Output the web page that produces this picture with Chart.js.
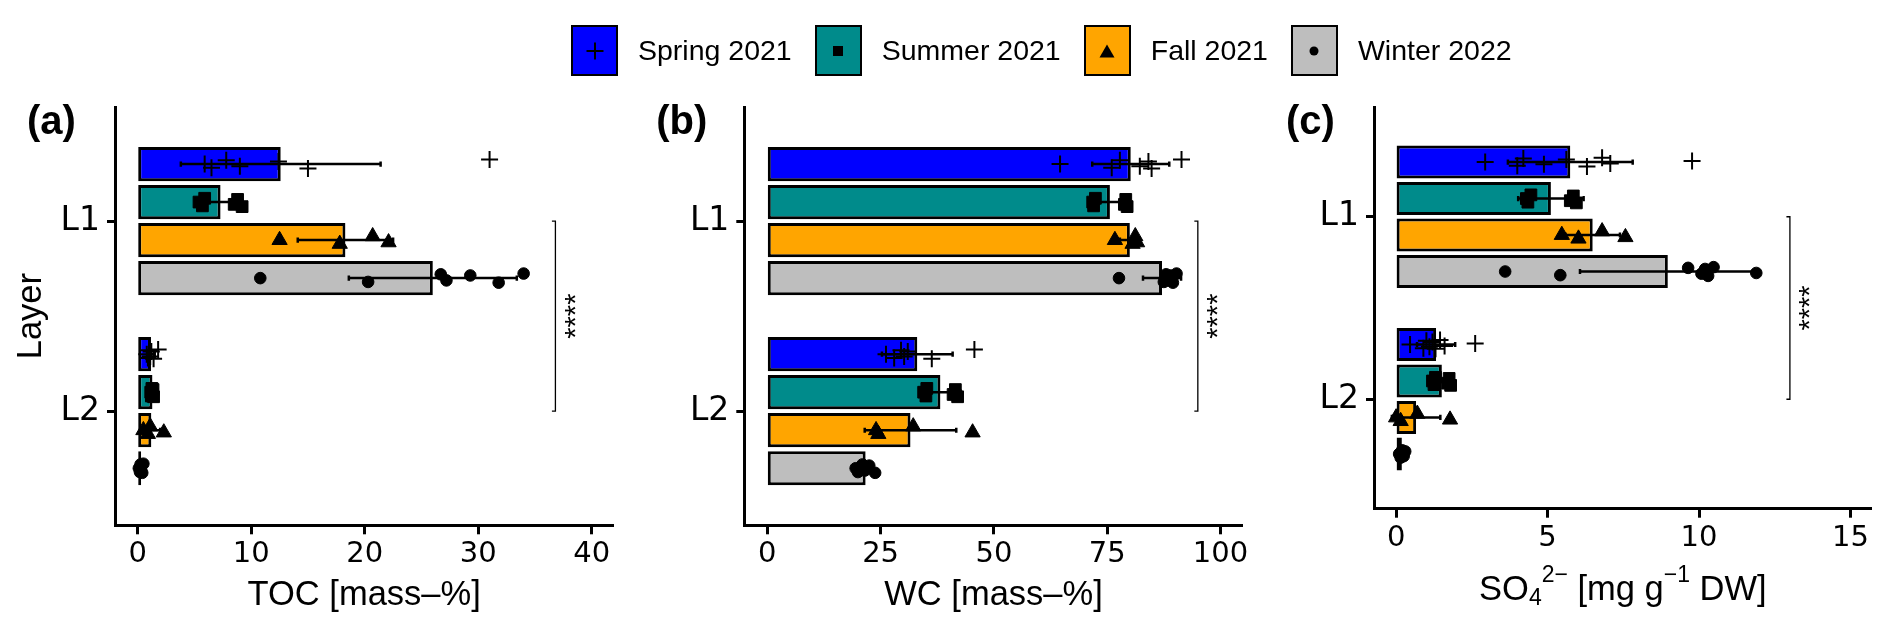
<!DOCTYPE html>
<html><head><meta charset="utf-8">
<script src="https://cdn.jsdelivr.net/npm/chart.js@4.4.1/dist/chart.umd.min.js"></script>
<style>
html,body{margin:0;padding:0;background:#fff;width:1892px;height:634px;overflow:hidden;}
canvas{position:absolute;left:0;top:0;}
#legend{position:absolute;left:571px;top:25px;height:51px;display:flex;align-items:center;}
.key{width:47px;height:51px;box-sizing:border-box;border:2.5px solid #000;margin-right:20px;display:flex;align-items:center;justify-content:center;}
.lab{font-family:'Liberation Sans',Arial,sans-serif;font-size:28.5px;color:#000;white-space:nowrap;margin-right:23px;}
</style></head><body>
<canvas id="ca" width="1892" height="634"></canvas>
<canvas id="cb" width="1892" height="634"></canvas>
<canvas id="cc" width="1892" height="634"></canvas>
<div id="legend"></div>
<script>
// ---------- shared categories ----------
const layers = ['L1', 'L2'];
const seasons = ['Spring 2021', 'Summer 2021', 'Fall 2021', 'Winter 2022'];
const seasonColors = ['#0000FF', '#008B8B', '#FFA500', '#BEBEBE'];
const seasonShapes = ['cross', 'rect', 'triangle', 'circle'];

// ---------- (a) TOC [mass-%] ----------
const tocTicks = [0, 10, 20, 30, 40];
const tocMeanL1 = [12.6, 7.3, 18.3, 26.0];
const tocMeanL2 = [1.17, 1.3, 1.2, 0.3];
const tocSdL1 = [8.8, 1.9, 4.2, 7.4];
const tocSdL2 = [0.33, 0.1, 0.78, 0.13];
const tocPtsL1 = [
  [5.9, 6.5, 7.8, 9.0, 12.4, 15.0, 31.0],
  [5.4, 5.7, 5.9, 8.5, 8.8, 9.2],
  [12.5, 17.8, 20.7, 22.1],
  [10.8, 20.3, 26.7, 27.2, 29.3, 31.8, 34.0]
];
const tocPtsL2 = [
  [0.8, 0.9, 1.0, 1.1, 1.2, 1.4, 1.8],
  [1.15, 1.2, 1.25, 1.3, 1.35, 1.4],
  [0.5, 0.9, 1.1, 2.3],
  [0.1, 0.2, 0.25, 0.3, 0.35, 0.4, 0.5]
];
const tocSignif = 36.8;

// ---------- (b) WC [mass-%] ----------
const wcTicks = [0, 25, 50, 75, 100];
const wcMeanL1 = [80.2, 75.6, 80.0, 87.1];
const wcMeanL2 = [33.1, 38.2, 31.6, 21.7];
const wcSdL1 = [8.5, 4.3, 2.2, 4.2];
const wcSdL2 = [7.8, 4.5, 10.1, 1.5];
const wcPtsL1 = [
  [64.6, 76.0, 77.8, 82.2, 84.1, 84.8, 91.4],
  [71.8, 72.0, 72.4, 78.8, 79.1, 79.4],
  [76.7, 80.6, 81.2, 81.6],
  [77.6, 87.5, 88.0, 88.5, 89.0, 89.5, 90.3]
];
const wcPtsL2 = [
  [26.2, 28.0, 29.5, 30.2, 31.0, 36.3, 45.7],
  [34.5, 35.0, 35.2, 41.0, 41.5, 42.0],
  [24.0, 24.5, 32.2, 45.3],
  [19.5, 20.0, 21.0, 21.5, 22.5, 23.8]
];
const wcSignif = 95.0;

// ---------- (c) SO4 2- [mg g-1 DW] ----------
const so4Ticks = [0, 5, 10, 15];
const so4MeanL1 = [5.75, 5.11, 6.49, 8.97];
const so4MeanL2 = [1.32, 1.51, 0.66, 0.19];
const so4SdL1 = [2.06, 1.08, 0.9, 2.9];
const so4SdL2 = [0.63, 0.27, 0.8, 0.1];
const so4PtsL1 = [
  [2.94, 4.0, 4.2, 4.88, 5.62, 6.30, 6.80, 7.07, 9.77],
  [4.3, 4.35, 4.45, 5.75, 5.85, 5.95],
  [5.47, 6.02, 6.80, 7.57],
  [3.6, 5.42, 9.64, 10.08, 10.2, 10.3, 10.48, 11.89]
];
const so4PtsL2 = [
  [0.46, 0.9, 1.0, 1.1, 1.2, 1.3, 1.45, 1.6, 2.61],
  [1.2, 1.25, 1.3, 1.7, 1.75, 1.8],
  [0.0, 0.15, 0.7, 1.78],
  [0.1, 0.15, 0.2, 0.25, 0.3]
];
const so4Signif = 13.0;

// ---------- styling / layout ----------
const shapeRadius = [8.5, 8.3, 8.8, 5.8];
const shapeBorder = [2, 1, 1, 1];
const jitter = [0, 0.02, -0.02, 0.012, -0.014, 0.024, -0.024, 0.008, -0.006];
const catPct = 0.8;
function dodge(s) { return (s - (seasons.length - 1) / 2) * catPct / seasons.length; }
const W = 1892, H = 634;
const titleFont = 'Liberation Sans';

Chart.defaults.color = '#000';

function makePanel(id, o) {
  const means = [o.meanL1, o.meanL2], sds = [o.sdL1, o.sdL2], pts = [o.ptsL1, o.ptsL2];
  const datasets = [];
  seasons.forEach((name, s) => {
    datasets.push({
      type: 'bar', label: name,
      data: layers.map((l, i) => ({x: means[i][s], y: i + 1})),
      backgroundColor: seasonColors[s], borderColor: '#000', borderWidth: 3,
      borderSkipped: false, categoryPercentage: catPct, barPercentage: 0.9, order: 2
    });
  });
  seasons.forEach((name, s) => {
    const data = [];
    layers.forEach((l, i) => {
      pts[i][s].forEach((v, k) => data.push({x: v, y: i + 1 + dodge(s) + jitter[k % jitter.length]}));
    });
    datasets.push({
      type: 'scatter', label: name + ' samples', data,
      pointStyle: seasonShapes[s], pointRadius: shapeRadius[s],
      pointBackgroundColor: '#000', pointBorderColor: '#000', pointBorderWidth: shapeBorder[s],
      showLine: false, order: 1
    });
  });

  const errPlugin = {
    id: 'err_' + id,
    afterDatasetDraw(chart, args) {
      if (args.index !== 0) return;
      const {ctx, scales: {x, y}} = chart;
      ctx.save();
      ctx.strokeStyle = '#000'; ctx.lineWidth = 2.5;
      means.forEach((row, i) => row.forEach((m, s) => {
        const sd = sds[i][s];
        const py = y.getPixelForValue(i + 1 + dodge(s));
        const x1 = x.getPixelForValue(m - sd), x2 = x.getPixelForValue(m + sd);
        ctx.beginPath();
        ctx.moveTo(x1, py); ctx.lineTo(x2, py);
        ctx.moveTo(x1, py - 2.6); ctx.lineTo(x1, py + 2.6);
        ctx.moveTo(x2, py - 2.6); ctx.lineTo(x2, py + 2.6);
        ctx.stroke();
      }));
      ctx.restore();
    }
  };
  const decoPlugin = {
    id: 'deco_' + id,
    afterDraw(chart) {
      const {ctx, scales: {x, y}, chartArea} = chart;
      ctx.save();
      // significance bracket
      const bx = x.getPixelForValue(o.signif);
      const y1 = y.getPixelForValue(1), y2 = y.getPixelForValue(2);
      ctx.strokeStyle = '#000'; ctx.lineWidth = 1.3;
      ctx.beginPath();
      ctx.moveTo(bx - 3.5, y1); ctx.lineTo(bx, y1); ctx.lineTo(bx, y2); ctx.lineTo(bx - 3.5, y2);
      ctx.stroke();
      ctx.save();
      ctx.translate(bx + 29.5, (y1 + y2) / 2);
      ctx.rotate(-Math.PI / 2);
      ctx.font = '29px "' + titleFont + '"';
      ctx.fillStyle = '#000'; ctx.textAlign = 'center'; ctx.textBaseline = 'alphabetic';
      ctx.fillText('****', 0, 0);
      ctx.restore();
      // panel tag
      ctx.font = 'bold 40px "' + titleFont + '"';
      ctx.fillStyle = '#000'; ctx.textAlign = 'left'; ctx.textBaseline = 'alphabetic';
      ctx.fillText(o.tag, chartArea.left - 88, chartArea.top + 27);
      // rich axis title
      if (o.richTitle) {
        let total = 0;
        o.richTitle.forEach(seg => { ctx.font = seg.f + 'px "' + titleFont + '"'; seg.w = ctx.measureText(seg.t).width; total += seg.w; });
        let cx = (chartArea.left + chartArea.right) / 2 - total / 2;
        const base = chartArea.bottom + 91.3;
        o.richTitle.forEach(seg => {
          ctx.font = seg.f + 'px "' + titleFont + '"';
          ctx.fillText(seg.t, cx, base + seg.dy);
          cx += seg.w;
        });
      }
      ctx.restore();
    }
  };

  const a = o.area;
  new Chart(document.getElementById(id), {
    type: 'bar',
    data: {datasets},
    plugins: [errPlugin, decoPlugin],
    options: {
      responsive: false, animation: false, events: [],
      indexAxis: 'y',
      layout: {padding: {left: a.left - 115, right: W - a.right, top: a.top, bottom: 0}},
      plugins: {legend: {display: false}, tooltip: {enabled: false}, title: {display: false}},
      scales: {
        x: {
          type: 'linear', position: 'bottom', min: o.xMin, max: o.xMax, offset: false,
          afterBuildTicks: s => { s.ticks = o.ticks.map(v => ({value: v})); },
          afterFit: s => { s.height = H - a.bottom; },
          ticks: {font: {family: 'DejaVu Sans', size: 29}, color: '#000', padding: 3, maxRotation: 0, autoSkip: false, callback: v => String(v)},
          grid: {display: true, drawOnChartArea: false, drawTicks: true, tickLength: 9, tickWidth: 3, tickColor: '#000', offset: false},
          border: {display: true, color: '#000', width: 3},
          title: {display: !!o.xTitle, text: o.xTitle || '', font: {family: titleFont, size: 34.5}, color: '#000', padding: {top: 0, bottom: 18}}
        },
        y: {
          type: 'linear', position: 'left', min: 0.4, max: 2.6, reverse: true, offset: false,
          afterBuildTicks: s => { s.ticks = layers.map((l, i) => ({value: i + 1})); },
          afterFit: s => { s.width = 115; },
          ticks: {font: {family: 'DejaVu Sans', size: 33}, color: '#000', padding: 7, autoSkip: false, callback: (v, i) => layers[i]},
          grid: {display: true, drawOnChartArea: false, drawTicks: true, tickLength: 8, tickWidth: 3, tickColor: '#000', offset: false},
          border: {display: true, color: '#000', width: 3},
          title: {display: !!o.yTitle, text: o.yTitle || '', font: {family: titleFont, size: 34.5}, color: '#000', padding: {top: 11, bottom: 0}}
        }
      }
    }
  });
}

makePanel('ca', {
  tag: '(a)', meanL1: tocMeanL1, meanL2: tocMeanL2, sdL1: tocSdL1, sdL2: tocSdL2,
  ptsL1: tocPtsL1, ptsL2: tocPtsL2, signif: tocSignif, ticks: tocTicks,
  xMin: -2, xMax: 41.9, xTitle: 'TOC [mass–%]', yTitle: 'Layer',
  area: {left: 115, right: 613.3, top: 107, bottom: 525.3}
});
makePanel('cb', {
  tag: '(b)', meanL1: wcMeanL1, meanL2: wcMeanL2, sdL1: wcSdL1, sdL2: wcSdL2,
  ptsL1: wcPtsL1, ptsL2: wcPtsL2, signif: wcSignif, ticks: wcTicks,
  xMin: -5.07, xMax: 104.9, xTitle: 'WC [mass–%]',
  area: {left: 744.3, right: 1242.7, top: 107, bottom: 525.3}
});
makePanel('cc', {
  tag: '(c)', meanL1: so4MeanL1, meanL2: so4MeanL2, sdL1: so4SdL1, sdL2: so4SdL2,
  ptsL1: so4PtsL1, ptsL2: so4PtsL2, signif: so4Signif, ticks: so4Ticks,
  xMin: -0.73, xMax: 15.7,
  richTitle: [
    {t: 'SO', f: 34.5, dy: 0}, {t: '4', f: 23, dy: 5}, {t: '2−', f: 23, dy: -18},
    {t: ' [mg g', f: 34.5, dy: 0}, {t: '−1', f: 23, dy: -18}, {t: ' DW]', f: 34.5, dy: 0}
  ],
  area: {left: 1374, right: 1871.7, top: 107.3, bottom: 508.7}
});

// ---------- legend ----------
const legendSymbols = [
  '<path d="M12.5 23 H29.5 M21 14.5 V31.5" stroke="#000" stroke-width="2"/>',
  '<rect x="16" y="18" width="10" height="10" fill="#000"/>',
  '<polygon points="21,16.5 28.5,29.5 13.5,29.5" fill="#000"/>',
  '<circle cx="21" cy="23" r="4.5" fill="#000"/>'
];
const leg = document.getElementById('legend');
seasons.forEach((name, s) => {
  const k = document.createElement('div');
  k.className = 'key'; k.style.background = seasonColors[s];
  k.innerHTML = '<svg width="42" height="46" viewBox="0 0 42 46">' + legendSymbols[s] + '</svg>';
  const t = document.createElement('span');
  t.className = 'lab'; t.textContent = name;
  leg.appendChild(k); leg.appendChild(t);
});
</script>
</body></html>
